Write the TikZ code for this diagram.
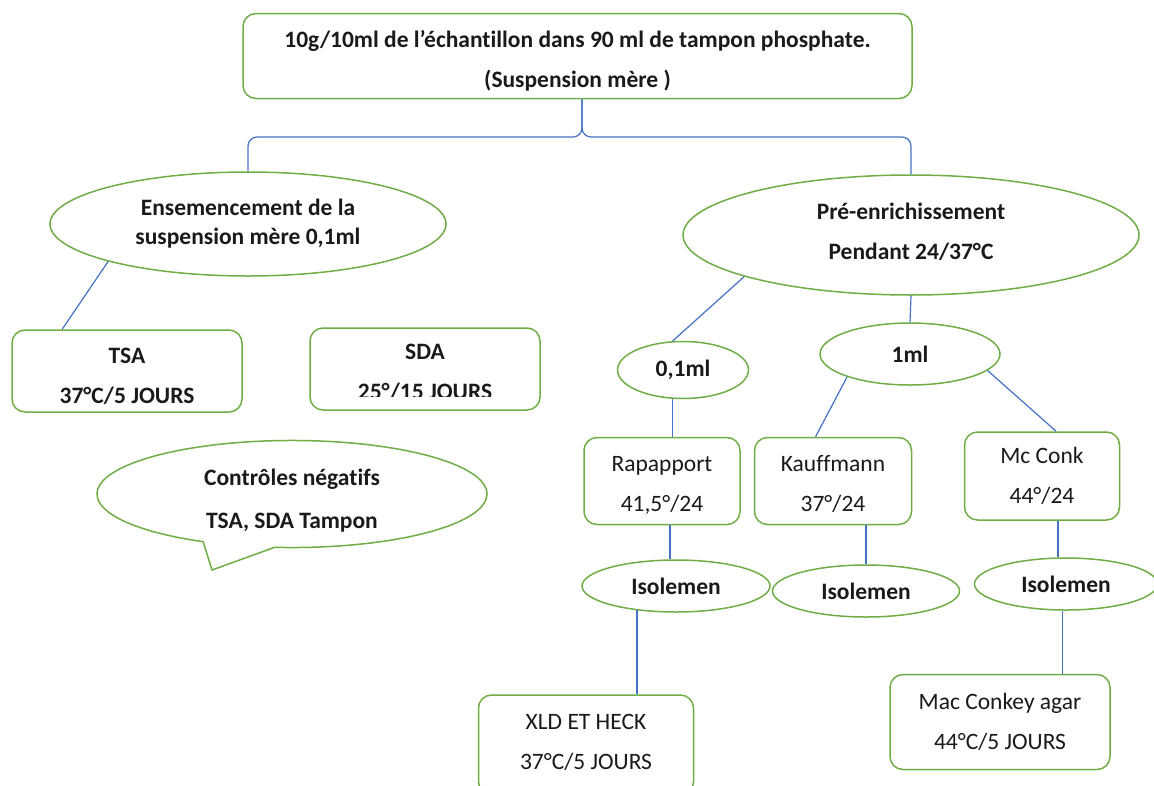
\documentclass[tikz,border=0pt]{standalone}
\usepackage{fontspec}
\setmainfont{Carlito}[Ligatures=NoCommon]
\usetikzlibrary{shapes.geometric,shapes.callouts,calc}
\definecolor{boxgreen}{HTML}{70AD47}
\definecolor{linkblue}{HTML}{4472C4}
\definecolor{ink}{HTML}{1A1A1A}
% invisible struts used to nudge text blocks inside their frames
\newcommand\headgap[1]{\rule{0pt}{#1pt}}
\newcommand\footgap[1]{\rule[-#1pt]{0pt}{#1pt}}
\tikzset{
  base/.style={align=center, inner sep=0pt, text=ink, fill=white},
  card/.style={base, draw=boxgreen, line width=1.5pt, rounded corners=13pt},
  oval/.style={base, ellipse, draw=boxgreen, line width=1.5pt},
  plain/.style={font=\fontsize{23.5}{40}\selectfont},
  heavy/.style={font=\fontsize{23.5}{40}\selectfont\bfseries},
  link/.style={draw=linkblue, line width=1.2pt},
}
\begin{document}
\begin{tikzpicture}[x=1pt,y=-1pt]
\useasboundingbox (0,0) rectangle (1154,785);

% top box
\node[card, heavy, minimum width=669, minimum height=85] (top) at (577.5,56)
  {\headgap{27}10g/10ml de l’échantillon dans 90 ml de tampon phosphate.\\(Suspension mère )};

% left branch
\node[oval, font=\fontsize{23.5}{29}\selectfont\bfseries, minimum width=396, minimum height=104] (ens) at (248,224)
  {Ensemencement de la\\suspension mère 0,1ml};
\node[card, heavy, minimum width=230, minimum height=82] (tsa) at (127,371)
  {\headgap{27}TSA\\37°C/5 JOURS};
\node[card, heavy, minimum width=230, minimum height=82] (sda) at (425,369)
  {\headgap{23}SDA\\25°/15 JOURS};
% lower part of the second SDA line is hidden
\fill[white] (316,397) rectangle (534,406);
\node[base, ellipse callout, draw=boxgreen, line width=1.5pt,
      font=\fontsize{23.5}{43}\selectfont\bfseries,
      minimum width=390, minimum height=106,
      callout absolute pointer={(212,570)}, callout pointer arc=22] (ctrl) at (292,494)
  {\headgap{29}Contrôles négatifs\\TSA, SDA Tampon};

% right branch
\node[oval, heavy, minimum width=456, minimum height=120] (pre) at (911,235)
  {Pré-enrichissement\\Pendant 24/37°C\footgap{8}};
\node[oval, heavy, minimum width=131, minimum height=57] (d01) at (683,370) {0,1ml};
\node[oval, heavy, minimum width=180, minimum height=62] (d1) at (910,354) {1ml};

\node[card, plain, minimum width=156, minimum height=87] (rap) at (662,481)
  {\headgap{23}Rapapport\\41,5°/24};
\node[card, plain, minimum width=157, minimum height=87] (kau) at (833,481)
  {\headgap{21}Kauffmann\\37°/24};
\node[card, plain, minimum width=155, minimum height=88] (mcc) at (1042,476)
  {Mc Conk\\44°/24};

\node[oval, heavy, minimum width=188, minimum height=52] (iso1) at (676,586) {Isolemen};
\node[oval, heavy, minimum width=187, minimum height=52] (iso2) at (866,591) {Isolemen};
\node[oval, heavy, minimum width=183, minimum height=52] (iso3) at (1066,584) {Isolemen};

\node[card, plain, minimum width=215, minimum height=100] (xld) at (586,745)
  {XLD ET HECK\\37°C/5 JOURS\footgap{6}};
\node[card, plain, minimum width=220, minimum height=95] (mac) at (1000,722)
  {Mac Conkey agar\\44°C/5 JOURS};

% connectors
\coordinate (bk) at (582,137);
\draw[link, rounded corners=9pt] (ens.north) |- (bk) -- (bk |- top.south);
\draw[link, rounded corners=9pt] (pre.north) |- (bk) -- (bk |- top.south);

\draw[link] (ens.195) -- ($(tsa.north west)!0.22!(tsa.north east)$);
\draw[link] (pre.194) -- (d01.110);
\draw[link] (pre.south) -- (d1.north);
\draw[link] (d01.250) -- (d01.250 |- rap.north);
\draw[link] (d1.200) -- ($(kau.north west)!0.39!(kau.north east)$);
\draw[link] (d1.348) -- ($(mcc.north west)!0.59!(mcc.north east)$);
\draw[link] ([xshift=8pt]rap.south) -- ([xshift=8pt]rap.south |- iso1.north);
\draw[link] (kau.south -| iso2.north) -- (iso2.north);
\draw[link] ([xshift=16pt]mcc.south) -- ([xshift=16pt]mcc.south |- iso3.north);
\draw[link] (iso1.212) -- (iso1.212 |- xld.north);
\draw[link] (iso3.263) -- (iso3.263 |- mac.north);
\end{tikzpicture}
\end{document}
